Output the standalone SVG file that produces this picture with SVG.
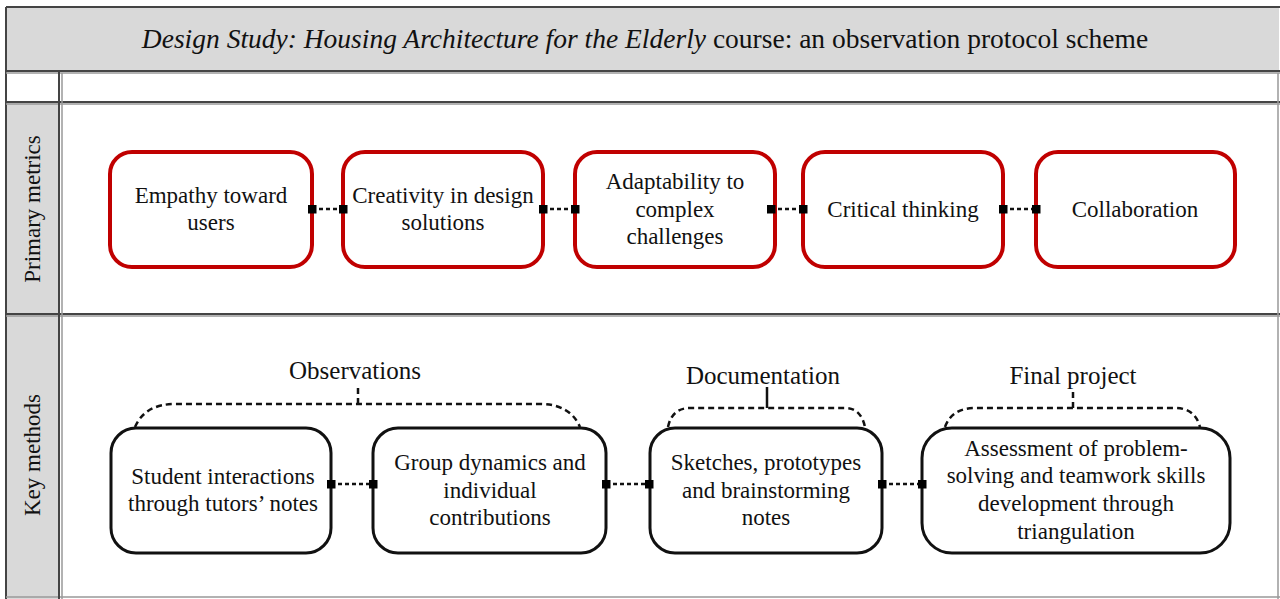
<svg xmlns="http://www.w3.org/2000/svg" width="1280" height="599" viewBox="0 0 1280 599">
<defs>
<style>
.t{font-family:"Liberation Serif","Times New Roman",serif;font-size:23px;fill:#111;text-anchor:middle}
.lb{font-family:"Liberation Serif","Times New Roman",serif;font-size:25px;fill:#111;text-anchor:middle}
.red{fill:#fff;stroke:#c00000;stroke-width:4}
.blk{fill:#fff;stroke:#111;stroke-width:3}
.con{stroke:#111;stroke-width:2.5;stroke-dasharray:4 3;fill:none}
.br{stroke:#111;stroke-width:2.5;stroke-dasharray:6 4;fill:none}
.ln{stroke:#444;stroke-width:2;fill:none}
.lt{stroke:#999;stroke-width:1.5;fill:none}
</style>
<marker id="sq" viewBox="0 0 9 9" refX="4.5" refY="4.5" markerWidth="9" markerHeight="9" markerUnits="userSpaceOnUse"><rect x="0" y="0" width="9" height="9" fill="#000"/></marker>
</defs>
<rect x="0" y="0" width="1280" height="599" fill="#fff"/>
<g id="frame">
<rect x="6" y="7" width="1273" height="64" fill="#d9d9d9"/>
<rect x="6" y="102" width="52" height="212" fill="#d9d9d9"/>
<rect x="6" y="314" width="52" height="285" fill="#d9d9d9"/>
<path class="ln" d="M6 7H1280M6 7V599M6 71H1280M6 102H1280M6 314H1280"/>
<path class="lt" d="M6 73H1280M6 104H1280M6 316H1280M1278 73V599M62 73V599M6 597H1280"/>
<path class="ln" d="M59 71V599"/>
<text x="645" y="48" style="font-family:'Liberation Serif','Times New Roman',serif;font-size:27.5px;fill:#111;text-anchor:middle"><tspan font-style="italic">Design Study: Housing Architecture for the Elderly</tspan> course: an observation protocol scheme</text>
<text class="t" transform="translate(40 209) rotate(-90)">Primary metrics</text>
<text class="t" transform="translate(40 455) rotate(-90)">Key methods</text>
</g>
<g id="n-empathy"><rect class="red" x="110" y="152" width="202" height="115" rx="22"/><text class="t" x="211" y="203">Empathy toward</text><text class="t" x="211" y="230">users</text></g>
<g id="n-creativity"><rect class="red" x="343" y="152" width="200" height="115" rx="22"/><text class="t" x="443" y="203">Creativity in design</text><text class="t" x="443" y="230">solutions</text></g>
<g id="n-adaptability"><rect class="red" x="575" y="152" width="200" height="115" rx="22"/><text class="t" x="675" y="189">Adaptability to</text><text class="t" x="675" y="217">complex</text><text class="t" x="675" y="244">challenges</text></g>
<g id="n-critical"><rect class="red" x="803" y="152" width="200" height="115" rx="22"/><text class="t" x="903" y="217">Critical thinking</text></g>
<g id="n-collab"><rect class="red" x="1036" y="152" width="199" height="115" rx="22"/><text class="t" x="1135" y="217">Collaboration</text></g>
<g id="observations"><text class="lb" x="355" y="379">Observations</text></g>
<g id="documentation"><text class="lb" x="763" y="384">Documentation</text></g>
<g id="finalproject"><text class="lb" x="1073" y="384">Final project</text></g>
<g id="n-student"><rect class="blk" x="111" y="428" width="220" height="125" rx="25"/><text class="t" x="223" y="484">Student interactions</text><text class="t" x="223" y="511">through tutors’ notes</text></g>
<g id="n-group"><rect class="blk" x="373" y="428" width="233" height="125" rx="25"/><text class="t" x="490" y="470">Group dynamics and</text><text class="t" x="490" y="498">individual</text><text class="t" x="490" y="525">contributions</text></g>
<g id="n-sketches"><rect class="blk" x="650" y="428" width="232" height="125" rx="25"/><text class="t" x="766" y="470">Sketches, prototypes</text><text class="t" x="766" y="498">and brainstorming</text><text class="t" x="766" y="525">notes</text></g>
<g id="n-assessment"><rect class="blk" x="922" y="428" width="308" height="125" rx="30"/><text class="t" x="1076" y="456">Assessment of problem-</text><text class="t" x="1076" y="483">solving and teamwork skills</text><text class="t" x="1076" y="511">development through</text><text class="t" x="1076" y="539">triangulation</text></g>
<g id="connectors">
<path class="con" d="M312 209H343" marker-start="url(#sq)" marker-end="url(#sq)"/>
<path class="con" d="M543 209H575" marker-start="url(#sq)" marker-end="url(#sq)"/>
<path class="con" d="M771 209H803" marker-start="url(#sq)" marker-end="url(#sq)"/>
<path class="con" d="M1003 209H1036" marker-start="url(#sq)" marker-end="url(#sq)"/>
<path class="con" d="M331 484H373" marker-start="url(#sq)" marker-end="url(#sq)"/>
<path class="con" d="M606 484H649" marker-start="url(#sq)" marker-end="url(#sq)"/>
<path class="con" d="M882 484H922" marker-start="url(#sq)" marker-end="url(#sq)"/>
<path class="br" d="M135 427Q145 404 175 404H540Q570 404 580 427"/>
<path class="br" d="M358 404V384"/>
<path class="br" d="M668 427Q672 408 690 408H845Q861 408 865 427"/>
<path d="M767 408V387" stroke="#111" stroke-width="2.5"/>
<path class="br" d="M945 427Q952 408 975 408H1175Q1195 408 1200 427"/>
<path class="br" d="M1073 408V389"/>
</g>
</svg>
